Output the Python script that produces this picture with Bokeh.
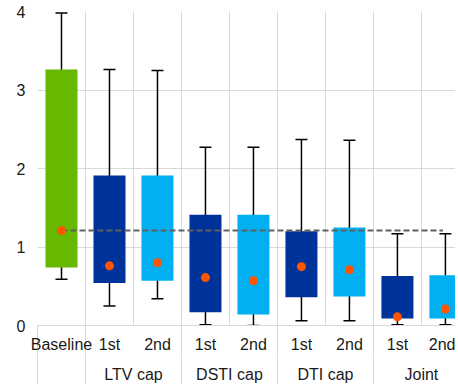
from bokeh.plotting import figure
from bokeh.models import Range1d, FixedTicker, LinearAxis, ColumnDataSource
from bokeh.embed import file_html
from bokeh.resources import INLINE

# ---- data ----
categories = ["Baseline", "1st", "2nd", "1st", "2nd", "1st", "2nd", "1st", "2nd"]
groups = ["LTV cap", "DSTI cap", "DTI cap", "Joint"]
group_centers = [2, 4, 6, 8]
group_edges = [0, 1, 3, 5, 7]
whisker_low = [0.59, 0.25, 0.34, 0.01, 0.00, 0.06, 0.06, 0.01, 0.01]
box_low = [0.74, 0.54, 0.57, 0.17, 0.14, 0.36, 0.37, 0.09, 0.09]
median = [1.21, 0.76, 0.80, 0.61, 0.57, 0.75, 0.71, 0.11, 0.21]
box_high = [3.26, 1.91, 1.91, 1.41, 1.41, 1.20, 1.25, 0.63, 0.64]
whisker_high = [3.98, 3.26, 3.25, 2.27, 2.27, 2.37, 2.36, 1.17, 1.17]
y_ticks = [0, 1, 2, 3, 4]
colors = ["#66b800", "#003399", "#00b0f0", "#003399", "#00b0f0",
          "#003399", "#00b0f0", "#003399", "#00b0f0"]

xs = [i + 0.5 for i in range(len(categories))]
cap = 0.125
src = ColumnDataSource(dict(
    x=xs, wl=whisker_low, bl=box_low, md=median, bh=box_high, wh=whisker_high,
    c=colors,
    cx0=[x - cap for x in xs], cx1=[x + cap for x in xs],
))

FONT = "Liberation Sans"
GRID = "#d9d9d9"
TXT = "#1a1a1a"

p = figure(frame_width=418, frame_height=314, output_backend="svg", toolbar_location=None,
           x_range=Range1d(0, 8.71), y_range=Range1d(0, 4),
           min_border_left=37, min_border_right=0, min_border_top=11, min_border_bottom=0,
           x_axis_location=None)
p.outline_line_color = None
p.background_fill_color = "white"
p.border_fill_color = "white"

# grid
p.ygrid.ticker = FixedTicker(ticks=y_ticks)
p.ygrid.grid_line_color = GRID
p.xgrid.grid_line_color = GRID
p.xgrid.ticker = FixedTicker(ticks=list(range(0, 10)))

# y axis
p.yaxis.ticker = FixedTicker(ticks=y_ticks)
p.yaxis.axis_line_color = None
p.yaxis.major_tick_line_color = None
p.yaxis.minor_tick_line_color = None
p.yaxis.major_label_standoff = 6
p.yaxis.major_label_text_font = FONT
p.yaxis.major_label_text_font_size = "16px"
p.yaxis.major_label_text_color = TXT

# category axis (first row)
ax1 = LinearAxis(ticker=FixedTicker(ticks=xs, minor_ticks=group_edges),
                 major_label_overrides={float(x): c for x, c in zip(xs, categories)})
ax1.axis_line_color = GRID
ax1.major_tick_line_color = None
ax1.minor_tick_line_color = GRID
ax1.minor_tick_in = 0
ax1.minor_tick_out = 29
ax1.major_label_standoff = -19
ax1.major_label_text_font = FONT
ax1.major_label_text_font_size = "16px"
ax1.major_label_text_color = TXT
p.add_layout(ax1, "below")

# group axis (second row)
ax2 = LinearAxis(ticker=FixedTicker(ticks=group_centers, minor_ticks=group_edges),
                 major_label_overrides={float(x): g for x, g in zip(group_centers, groups)})
ax2.axis_line_color = None
ax2.major_tick_line_color = None
ax2.minor_tick_line_color = GRID
ax2.minor_tick_in = 0
ax2.minor_tick_out = 30
ax2.major_label_standoff = -20
ax2.major_label_text_font = FONT
ax2.major_label_text_font_size = "16px"
ax2.major_label_text_color = TXT
p.add_layout(ax2, "below")

# whiskers
p.segment(x0="x", y0="wl", x1="x", y1="wh", source=src, line_color="black", line_width=1.5)
p.segment(x0="cx0", y0="wh", x1="cx1", y1="wh", source=src, line_color="black", line_width=1.5)
p.segment(x0="cx0", y0="wl", x1="cx1", y1="wl", source=src, line_color="black", line_width=1.5)

# boxes (interquartile range)
p.vbar(x="x", width=0.667, bottom="bl", top="bh", source=src, fill_color="c", line_color=None)

# baseline reference line
p.line(x=[xs[0], xs[-1] - 0.05], y=[median[0], median[0]], line_color="#606060",
       line_width=2.2, line_dash="6 3")

# median dots
p.scatter(x="x", y="md", source=src, size=9, fill_color="#ff5500", line_color=None)

open("out.html", "w").write(file_html(p, INLINE))
